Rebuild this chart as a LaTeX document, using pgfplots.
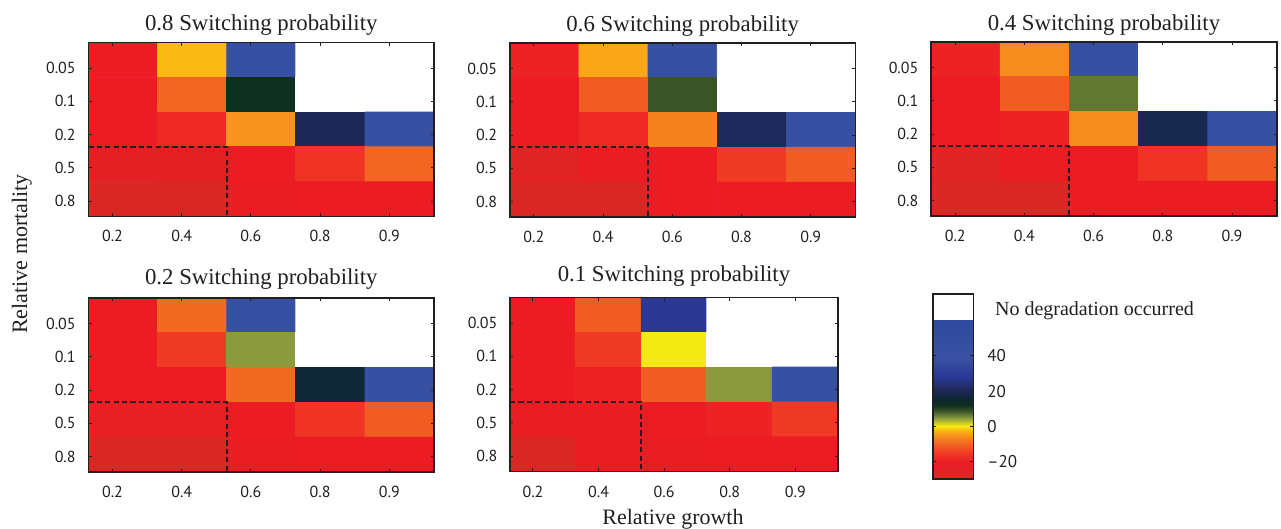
\documentclass[border=0pt]{standalone}
\usepackage{pgfplots}
\pgfplotsset{compat=1.18}
\usepackage{pgfplotstable}
\usepackage{fontspec}
\setmainfont{Liberation Serif}
\newfontfamily\ptsans{PT Sans}
\definecolor{axc}{RGB}{35,31,32}
\pgfplotsset{colormap={deg}{rgb255(0pt)=(212,42,39) rgb255(100pt)=(237,28,36) rgb255(150pt)=(239,58,36) rgb255(200pt)=(242,101,34) rgb255(250pt)=(247,148,29) rgb255(280pt)=(252,186,20) rgb255(300pt)=(245,235,20) rgb255(350pt)=(138,154,60) rgb255(390pt)=(58,84,40) rgb255(420pt)=(14,48,32) rgb255(450pt)=(12,40,45) rgb255(500pt)=(28,40,85) rgb255(580pt)=(42,56,148) rgb255(700pt)=(58,82,163) rgb255(910pt)=(48,72,158) rgb255(912pt)=(255,255,255) rgb255(1050pt)=(255,255,255)}}
\pgfplotsset{every axis title shift=0pt}
\pgfplotsset{panel/.style={
  scale only axis, width=173pt, height=87pt, anchor=south west,
  xmin=0.5, xmax=5.5, ymin=0.5, ymax=5.5, y dir=reverse, enlargelimits=false,
  axis on top, point meta min=-30, point meta max=75, colormap name=deg,
  xtick={0.85,1.85,2.85,3.85,4.85}, xticklabels={0.2,0.4,0.6,0.8,0.9},
  ytick={1.24,2.19,3.15,4.10,5.06}, yticklabels={0.05,0.1,0.2,0.5,0.8},
  tick align=inside, major tick length=1.6pt, tick style={axc, line width=0.5pt},
  axis line style={axc, line width=0.8pt},
  tick label style={font=\ptsans\fontsize{8}{9}\selectfont, text=axc},
  xticklabel style={yshift=-3.5pt}, yticklabel style={xshift=-2.8pt},
  title style={font=\fontsize{11.4}{13}\selectfont, text=axc, at={(0.5,1)}, anchor=base, yshift=5.75pt, inner sep=0pt},
}}
\pgfplotsset{dashbox/.style={axc, line width=1pt, dash pattern=on 2.6pt off 1.6pt}}
\pgfplotstableread{
x y c
1 1 -20
2 1 -2
3 1 45
4 1 70
5 1 70
1 2 -20
2 2 -10
3 2 12
4 2 70
5 2 70
1 3 -20
2 3 -18
3 3 -5
4 3 20
5 3 45
1 4 -23
2 4 -23
3 4 -20
4 4 -16
5 4 -10
1 5 -28
2 5 -28
3 5 -21
4 5 -20
5 5 -20
}\tA
\pgfplotstableread{
x y c
1 1 -19
2 1 -3.5
3 1 45
4 1 70
5 1 70
1 2 -20
2 2 -11
3 2 9
4 2 70
5 2 70
1 3 -20
2 3 -18
3 3 -7
4 3 21
5 3 45
1 4 -25
2 4 -21
3 4 -20
4 4 -15
5 4 -11
1 5 -27
2 5 -27
3 5 -20
4 5 -20
5 5 -20
}\tB
\pgfplotstableread{
x y c
1 1 -19
2 1 -6
3 1 45
4 1 70
5 1 70
1 2 -20
2 2 -11
3 2 7
4 2 70
5 2 70
1 3 -20
2 3 -19
3 3 -6
4 3 19
5 3 45
1 4 -25
2 4 -21
3 4 -20
4 4 -16
5 4 -11
1 5 -27
2 5 -27
3 5 -20
4 5 -20
5 5 -20
}\tC
\pgfplotstableread{
x y c
1 1 -20
2 1 -9.5
3 1 45
4 1 70
5 1 70
1 2 -20
2 2 -15
3 2 5
4 2 70
5 2 70
1 3 -20
2 3 -20
3 3 -9.5
4 3 16
5 3 45
1 4 -22
2 4 -22
3 4 -20
4 4 -16
5 4 -11
1 5 -27
2 5 -27
3 5 -21
4 5 -20
5 5 -20
}\tD
\pgfplotstableread{
x y c
1 1 -20
2 1 -11
3 1 28
4 1 70
5 1 70
1 2 -20
2 2 -15
3 2 0
4 2 70
5 2 70
1 3 -20
2 3 -19
3 3 -11
4 3 5
5 3 45
1 4 -21
2 4 -21
3 4 -20
4 4 -19
5 4 -15
1 5 -27
2 5 -21
3 5 -21
4 5 -20
5 5 -20
}\tE
% colour bar: one row per colormap stop (value, at both edges)
\pgfplotstableread{
x y
0 -30
1 -30
0 -20
1 -20
0 -15
1 -15
0 -10
1 -10
0 -5
1 -5
0 -2
1 -2
0 0
1 0
0 5
1 5
0 9
1 9
0 12
1 12
0 15
1 15
0 20
1 20
0 28
1 28
0 40
1 40
0 61
1 61
0 61.2
1 61.2
0 75
1 75
}\tBar
\begin{document}
\begin{tikzpicture}
\useasboundingbox (0,0) rectangle (640.5pt,264.5pt);
\begin{axis}[panel, at={(44.15pt,156.25pt)}, title={0.8 Switching probability}]
\addplot[matrix plot, mesh/cols=5, point meta=explicit] table[x=x, y=y, meta=c] {\tA};
\addplot[dashbox] coordinates {(0.5,3.5) (2.5,3.5) (2.5,5.5)};
\end{axis}
\begin{axis}[panel, at={(254.85pt,156pt)}, title={0.6 Switching probability}]
\addplot[matrix plot, mesh/cols=5, point meta=explicit] table[x=x, y=y, meta=c] {\tB};
\addplot[dashbox] coordinates {(0.5,3.5) (2.5,3.5) (2.5,5.5)};
\end{axis}
\begin{axis}[panel, at={(465.5pt,156.5pt)}, title={0.4 Switching probability}]
\addplot[matrix plot, mesh/cols=5, point meta=explicit] table[x=x, y=y, meta=c] {\tC};
\addplot[dashbox] coordinates {(0.5,3.5) (2.5,3.5) (2.5,5.5)};
\end{axis}
\begin{axis}[panel, at={(44.15pt,28.5pt)}, title={0.2 Switching probability}, title style={yshift=1.1pt}]
\addplot[matrix plot, mesh/cols=5, point meta=explicit] table[x=x, y=y, meta=c] {\tD};
\addplot[dashbox] coordinates {(0.5,3.5) (2.5,3.5) (2.5,5.5)};
\end{axis}
\begin{axis}[panel, width=164pt, height=87.2pt, at={(255pt,28.65pt)}, title={0.1 Switching probability}, title style={yshift=2.35pt}]
\addplot[matrix plot, mesh/cols=5, point meta=explicit] table[x=x, y=y, meta=c] {\tE};
\addplot[dashbox] coordinates {(0.5,3.5) (2.5,3.5) (2.5,5.5)};
\end{axis}
\begin{axis}[at={(466.35pt,117.35pt)}, anchor=north west, scale only axis, width=20.3pt, height=92.5pt,
  xmin=0, xmax=1, ymin=-30, ymax=75, enlargelimits=false, axis on top,
  point meta min=-30, point meta max=75, colormap name=deg,
  xtick=\empty, ytick={-20,0,20,40}, yticklabels={\textendash20,0,20,40},
  tick align=inside, major tick length=1.6pt, tick style={axc, line width=0.5pt},
  ytick pos=both, yticklabel pos=right,
  axis line style={axc, line width=0.8pt},
  yticklabel style={font=\ptsans\fontsize{8.5}{10}\selectfont, text=axc, xshift=3.5pt}]
\addplot[surf, shader=interp, mesh/cols=2, point meta=y] table[x=x, y=y] {\tBar};
\end{axis}
\node[rotate=90, anchor=base, font=\fontsize{11}{13}\selectfont, text=axc] at (13.5pt,137.5pt) {Relative mortality};
\node[anchor=base, font=\fontsize{11}{13}\selectfont, text=axc] at (336.5pt,2pt) {Relative growth};
\node[anchor=base west, font=\fontsize{10}{12}\selectfont, text=axc] at (494pt,106.5pt) {No degradation occurred};
\end{tikzpicture}
\end{document}
